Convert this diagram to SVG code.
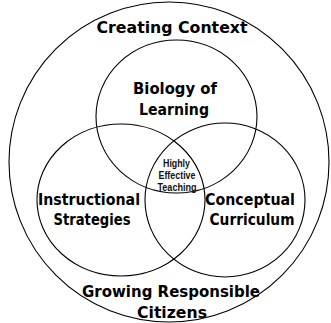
<svg xmlns="http://www.w3.org/2000/svg" width="331" height="323" viewBox="0 0 331 323">
<style>
.ring{fill:none;stroke:#000;stroke-width:1.1}
.lb{font-family:"DejaVu Sans","Noto Sans CJK JP",sans-serif;font-weight:bold;fill:#000;text-anchor:middle}
.big{font-size:16px}
.mid{font-size:15px}
.sm{font-family:"Liberation Sans","Arial",sans-serif;font-weight:bold;font-size:11px;fill:#111;text-anchor:middle}
</style>
<rect width="331" height="323" fill="#fff"/>
<g id="outer">
<ellipse class="ring" cx="169" cy="162" rx="160" ry="160"/>
<text class="lb big" x="172" y="33" textLength="151" lengthAdjust="spacingAndGlyphs">Creating Context</text>
<text class="lb big" x="171" y="297" textLength="178" lengthAdjust="spacingAndGlyphs">Growing Responsible</text>
<text class="lb big" x="172" y="317.5" textLength="70" lengthAdjust="spacingAndGlyphs">Citizens</text>
</g>
<g id="biology">
<ellipse class="ring" cx="176.5" cy="116.5" rx="80.5" ry="76.5"/>
<text class="lb mid" x="175" y="94" textLength="84" lengthAdjust="spacingAndGlyphs">Biology of</text>
<text class="lb mid" x="174" y="115" textLength="70" lengthAdjust="spacingAndGlyphs">Learning</text>
</g>
<g id="instructional">
<ellipse class="ring" cx="121" cy="200" rx="84" ry="76"/>
<text class="lb mid" x="89" y="205" textLength="102" lengthAdjust="spacingAndGlyphs">Instructional</text>
<text class="lb mid" x="92" y="225" textLength="77" lengthAdjust="spacingAndGlyphs">Strategies</text>
</g>
<g id="conceptual">
<ellipse class="ring" cx="225" cy="200" rx="80" ry="77"/>
<text class="lb mid" x="250" y="205" textLength="90" lengthAdjust="spacingAndGlyphs">Conceptual</text>
<text class="lb mid" x="252" y="225" textLength="85" lengthAdjust="spacingAndGlyphs">Curriculum</text>
</g>
<g id="center">
<text class="sm" x="176.5" y="167" textLength="27" lengthAdjust="spacingAndGlyphs">Highly</text>
<text class="sm" x="177" y="179" textLength="37" lengthAdjust="spacingAndGlyphs">Effective</text>
<text class="sm" x="177" y="190.5" textLength="39" lengthAdjust="spacingAndGlyphs">Teaching</text>
</g>
<g id="connectors"></g>
</svg>
